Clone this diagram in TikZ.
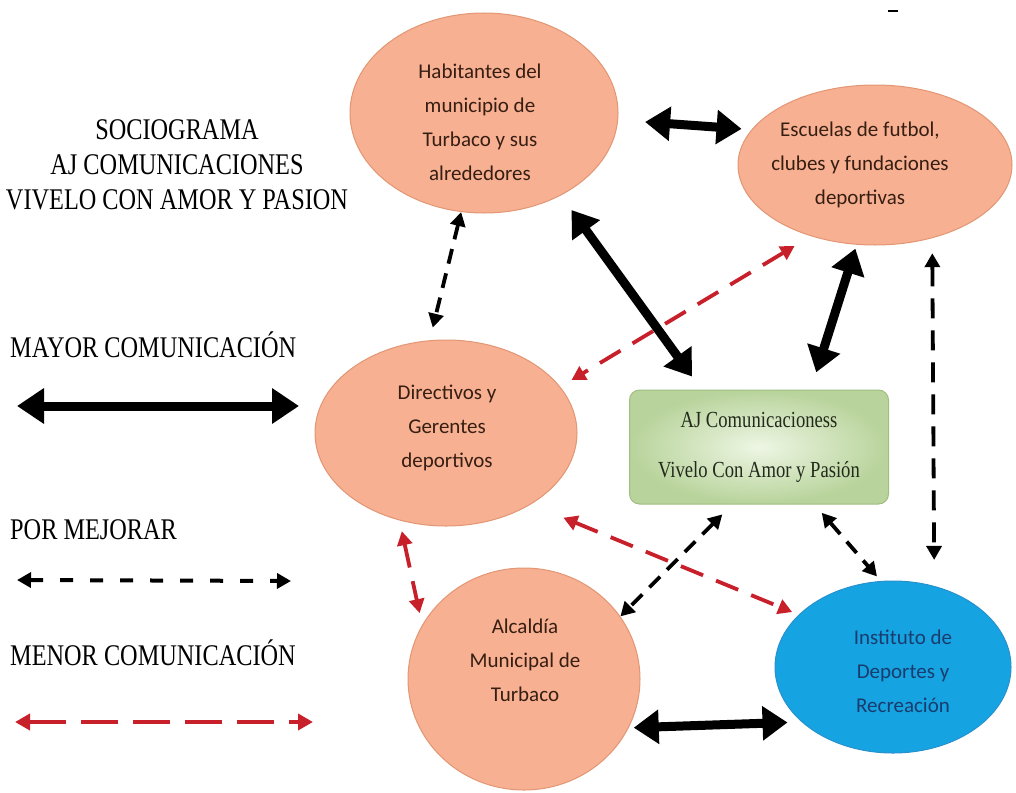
\documentclass[tikz,border=0pt]{standalone}
\usepackage{fontspec}
\newfontfamily\legfont[FakeStretch=0.81]{Liberation Serif}
\newfontfamily\ellfont{Carlito}
\usetikzlibrary{arrows.meta,shapes.geometric}
\definecolor{salm}{RGB}{247,176,146}
\definecolor{salmline}{RGB}{226,150,115}
\definecolor{bluefill}{RGB}{22,163,225}
\definecolor{blueline}{RGB}{40,145,205}
\definecolor{bluetext}{RGB}{25,60,110}
\definecolor{browntext}{RGB}{55,30,18}
\definecolor{greenin}{RGB}{238,246,228}
\definecolor{greenout}{RGB}{184,211,155}
\definecolor{greenline}{RGB}{160,190,128}
\definecolor{greentext}{RGB}{35,42,28}
\definecolor{redc}{RGB}{200,32,42}
\begin{document}
\begin{tikzpicture}[x=1pt,y=-1pt,
  oval/.style={ellipse, draw=salmline, line width=1pt, fill=salm, inner sep=0pt},
  blueoval/.style={ellipse, draw=blueline, line width=1pt, fill=bluefill, inner sep=0pt},
  ovaltext/.style={align=center, text=browntext, inner sep=0pt, font=\ellfont\fontsize{21}{34}\selectfont},
  legtext/.style={anchor=west, inner sep=0pt, font=\legfont\fontsize{30}{35}\selectfont},
  thickarr/.style={line width=9pt, {Triangle[length=25pt,width=33pt]}-{Triangle[length=25pt,width=33pt]}},
  dasharr/.style={line width=3.8pt, dash pattern=on 15pt off 10pt, {Triangle[length=14pt,width=15pt]}-{Triangle[length=14pt,width=15pt]}},
  reddash/.style={draw=redc, line width=3.8pt, dash pattern=on 24pt off 14pt, {Triangle[length=14pt,width=15pt]}-{Triangle[length=14pt,width=15pt]}, color=redc}
]
\useasboundingbox (0,0) rectangle (1016,792);

% ellipses
\node[oval, minimum width=268pt, minimum height=200pt] (H) at (484,113) {};
\node[ovaltext] (Ht) at (480,122) {Habitantes del\\municipio de\\Turbaco y sus\\alrededores};
\node[oval, minimum width=274pt, minimum height=160pt] (E) at (875,165) {};
\node[ovaltext] (Et) at (860,165) {Escuelas de futbol,\\clubes y fundaciones\\deportivas};
\node[oval, minimum width=262pt, minimum height=186pt] (D) at (446,433) {};
\node[ovaltext] (Dt) at (447,428) {Directivos y\\Gerentes\\deportivos};
\node[oval, minimum width=232pt, minimum height=222pt] (A) at (524,679) {};
\node[ovaltext] (At) at (525,660) {Alcaldía\\Municipal de\\Turbaco};
\node[blueoval, minimum width=236pt, minimum height=172pt] (I) at (893,667) {};
\node[ovaltext, text=bluetext] (It) at (903,671) {Instituto de\\Deportes y\\Recreación};

% green box
\node[draw=greenline, line width=1pt, rounded corners=10pt, inner color=greenin, outer color=greenout,
      minimum width=259pt, minimum height=114pt, align=center, text=greentext,
      font=\legfont\fontsize{23}{50}\selectfont] (G) at (759,447)
      {AJ Comunicacioness\\Vivelo Con Amor y Pasión};

% connectors
\draw[thickarr, shorten <=27pt, shorten >=10pt] (H.-3) -- (E.164);
\draw[dasharr, shorten >=13pt] (H.-103) -- (D.100);
\draw[thickarr, shorten <=18pt, shorten >=16pt] (H.-47) -- (G.135);
\draw[reddash, shorten <=19pt, shorten >=13pt] (E.-132) -- (D.22);
\draw[thickarr, shorten <=4pt, shorten >=18pt] (E.-103) -- (G.48);
\draw[dasharr, dash pattern=on 20pt off 12pt, shorten <=15pt, shorten >=26pt] (E.-52) -- (I.63);
\draw[reddash, shorten <=35pt, shorten >=7pt] (D.-40) -- (I.151);
\draw[reddash, shorten <=11pt, shorten >=12pt] (D.-118) -- (A.152);
\draw[dasharr, shorten <=14pt] (G.-115) -- (A.33);
\draw[dasharr, shorten <=11pt, shorten >=6pt] (G.-46) -- (I.98);
\draw[thickarr, shorten <=5pt, shorten >=14pt] (A.-25) -- (I.-149);

% title and legend
\node[align=center, inner sep=0pt, font=\legfont\fontsize{30}{35}\selectfont] (title) at (177,165)
  {SOCIOGRAMA\\AJ COMUNICACIONES\\VIVELO CON AMOR Y PASION};
\node[legtext] (mayor) at (10,345) {MAYOR COMUNICACIÓN};
\node[legtext] (mejorar) at (10,530) {POR MEJORAR};
\node[legtext] (menor) at (10,653) {MENOR COMUNICACIÓN};

\coordinate (m1) at (17,406);
\coordinate (m2) at (299,406);
\draw[line width=9pt, {Triangle[length=27pt,width=34pt]}-{Triangle[length=27pt,width=34pt]}] (m1) -- (m2);
\coordinate (p1) at (17,580);
\coordinate (p2) at (291,581);
\draw[line width=4pt, dash pattern=on 13pt off 17pt, {Triangle[length=14pt,width=15pt]}-{Triangle[length=14pt,width=15pt]}] (p1) -- (p2);
\coordinate (r1) at (15,722);
\coordinate (r2) at (313,722);
\draw[draw=redc, color=redc, line width=4.5pt, dash pattern=on 37pt off 15pt, {Triangle[length=15pt,width=16pt]}-{Triangle[length=15pt,width=16pt]}] (r1) -- (r2);

% small mark at top
\coordinate (k1) at (888,11);
\coordinate (k2) at (898,11);
\draw[line width=2pt] (k1) -- (k2);
\end{tikzpicture}
\end{document}
